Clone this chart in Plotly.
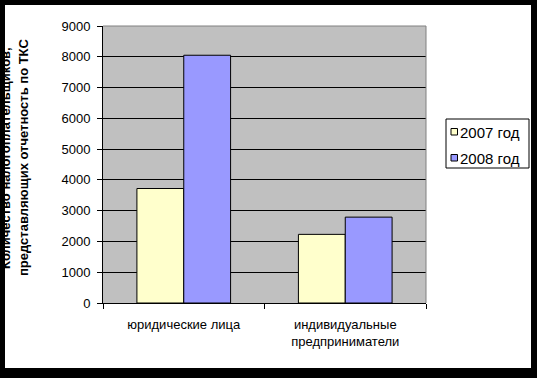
import plotly.graph_objects as go

categories = ["юридические лица", "индивидуальные<br>предприниматели"]
series_names = ["2007 год", "2008 год"]
series_colors = ["#FFFFCC", "#9999FF"]
values_2007 = [3720, 2230]
values_2008 = [8050, 2790]
y_ticks = [0, 1000, 2000, 3000, 4000, 5000, 6000, 7000, 8000, 9000]
title_lines = ["Количество налогоплательщиков,", "представляющих отчетность по ТКС"]

W, H = 537, 378
L, R, T, B = 103, 426, 26, 303  # plot area in px

def px_x(p):
    return (p - L) / (R - L)

def px_y(p):
    return (B - p) / (B - T)

fig = go.Figure()
for name, vals, col in zip(series_names, [values_2007, values_2008], series_colors):
    fig.add_trace(go.Bar(x=categories, y=vals, name=name, showlegend=False,
                         marker=dict(color=col, line=dict(color="black", width=1))))

font = "Liberation Sans, Arial, sans-serif"
shapes = [
    # black frame around the picture
    dict(type="rect", xref="paper", yref="paper", x0=px_x(-5), x1=px_x(5), y0=px_y(-5), y1=px_y(H + 5),
         fillcolor="black", line=dict(width=0), layer="below"),
    dict(type="rect", xref="paper", yref="paper", x0=px_x(531), x1=px_x(W + 5), y0=px_y(-5), y1=px_y(H + 5),
         fillcolor="black", line=dict(width=0), layer="below"),
    dict(type="rect", xref="paper", yref="paper", x0=px_x(-5), x1=px_x(W + 5), y0=px_y(-5), y1=px_y(5),
         fillcolor="black", line=dict(width=0), layer="below"),
    dict(type="rect", xref="paper", yref="paper", x0=px_x(-5), x1=px_x(W + 5), y0=px_y(368), y1=px_y(H + 5),
         fillcolor="black", line=dict(width=0), layer="below"),
    # gray plot border top and right
    dict(type="line", xref="paper", yref="paper", x0=0, x1=1, y0=1, y1=1,
         line=dict(color="#808080", width=1), layer="above"),
    dict(type="line", xref="paper", yref="paper", x0=1, x1=1, y0=0, y1=1,
         line=dict(color="#808080", width=1), layer="above"),
    # legend box
    dict(type="rect", xref="paper", yref="paper", x0=px_x(446), x1=px_x(529), y0=px_y(119), y1=px_y(168),
         fillcolor="white", line=dict(color="black", width=1), layer="above"),
]

annotations = [
    dict(text="<b>" + title_lines[0] + "</b>", textangle=-90, xref="paper", yref="paper",
         x=px_x(5), y=px_y(158), xanchor="center", yanchor="middle", showarrow=False,
         font=dict(family=font, size=13, color="black")),
    dict(text="<b>" + title_lines[1] + "</b>", textangle=-90, xref="paper", yref="paper",
         x=px_x(23), y=px_y(158), xanchor="center", yanchor="middle", showarrow=False,
         font=dict(family=font, size=13, color="black")),
]

# legend entries (symbol + label)
for i, (name, col) in enumerate(zip(series_names, series_colors)):
    cy = 132 + 26 * i
    shapes.append(dict(type="rect", xref="paper", yref="paper",
                       x0=px_x(451), x1=px_x(457.5), y0=px_y(cy - 3.5), y1=px_y(cy + 3),
                       fillcolor=col, line=dict(color="black", width=1), layer="above"))
    annotations.append(dict(text=name, xref="paper", yref="paper", x=px_x(458), y=px_y(cy),
                            xanchor="left", yanchor="middle", showarrow=False,
                            font=dict(family=font, size=15, color="black")))

fig.update_layout(
    width=W, height=H,
    margin=dict(l=L, r=W - R, t=T, b=H - B, pad=0, autoexpand=False),
    paper_bgcolor="white",
    plot_bgcolor="#C0C0C0",
    barmode="group",
    bargap=0.42,
    bargroupgap=0,
    font=dict(family=font, size=13, color="black"),
    showlegend=False,
    shapes=shapes,
    annotations=annotations,
    xaxis=dict(type="category", showline=True, linecolor="black", linewidth=1,
               ticks="outside", tickson="boundaries", ticklen=5, tickcolor="black",
               showgrid=False, tickfont=dict(size=13), ticklabelstandoff=9),
    yaxis=dict(range=[0, 9000], tickvals=y_ticks, showline=True, linecolor="black", linewidth=1,
               ticks="outside", ticklen=5, tickcolor="black", showgrid=True, gridcolor="black",
               gridwidth=1, zeroline=False, tickfont=dict(size=13), ticklabelstandoff=4),
)

fig.write_html("out.html", config={"displayModeBar": False},
               post_script="document.body.style.margin='0px';document.body.style.overflow='hidden';")
